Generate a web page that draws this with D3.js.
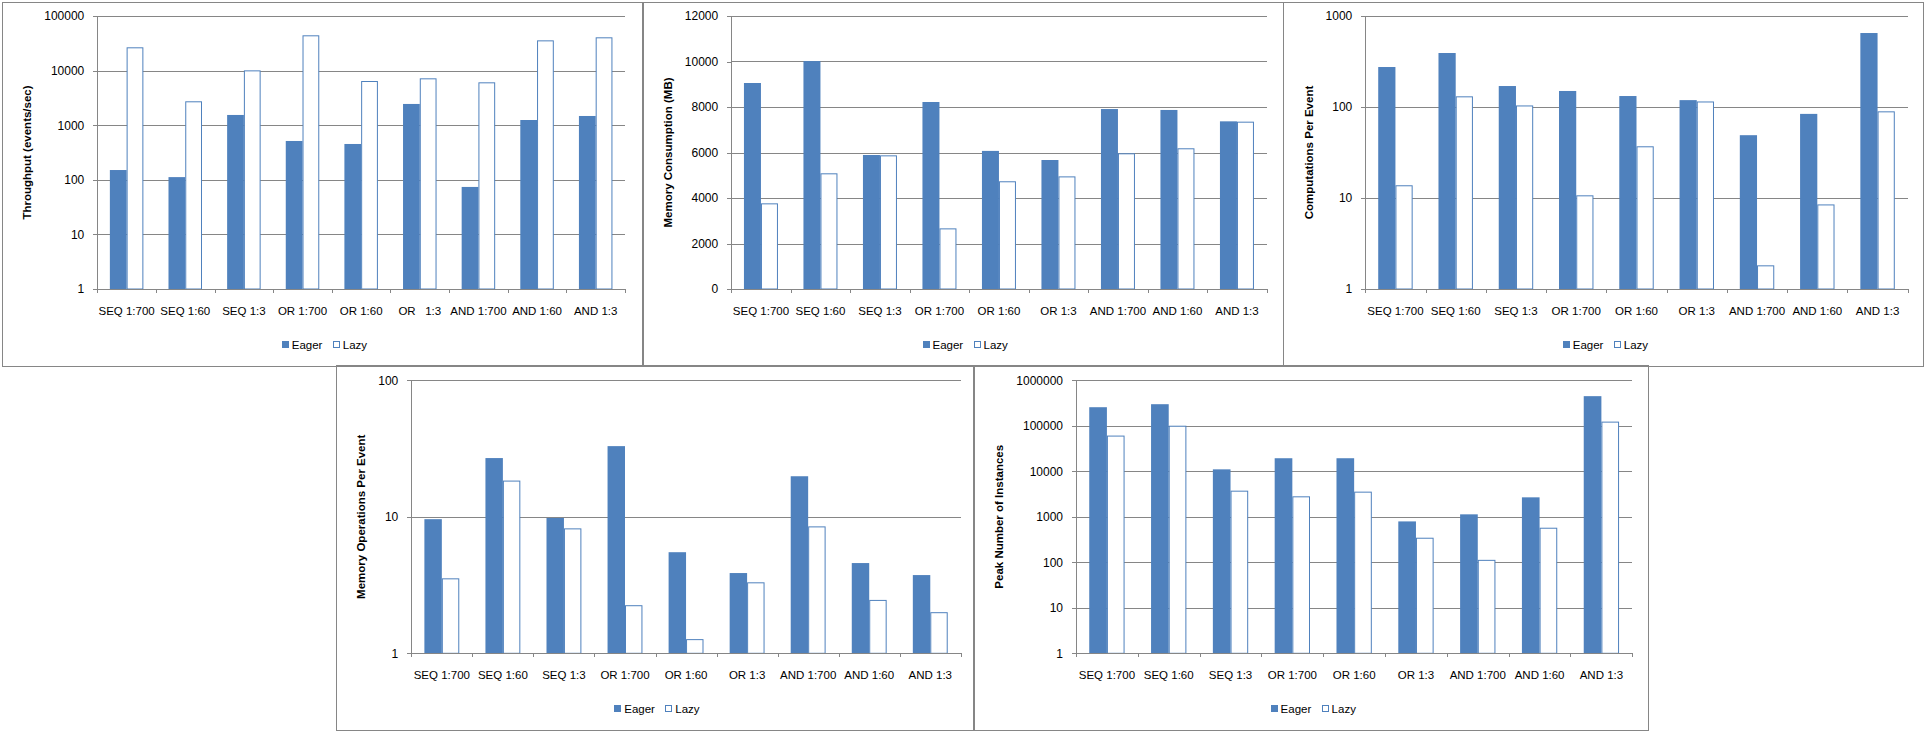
<!DOCTYPE html>
<html>
<head>
<meta charset="utf-8">
<script src="https://d3js.org/d3.v7.min.js"></script>
<title>Eager vs Lazy</title>
<style>
body { margin: 0; background: #fff; }
svg { display: block; }
text { font-family: "Liberation Sans", Arial, sans-serif; fill: #000; }
.tick text { font-size: 12px; }
.cat text { font-size: 11.5px; white-space: pre; }
.ytitle { font-size: 11.5px; font-weight: bold; }
.legend text { font-size: 11.5px; }
</style>
</head>
<body>
<svg width="1926" height="733"></svg>
<script>

// categories and series
let categories = ["SEQ 1:700", "SEQ 1:60", "SEQ 1:3", "OR 1:700", "OR 1:60", "OR 1:3", "AND 1:700", "AND 1:60", "AND 1:3"];
let categoriesThroughput = ["SEQ 1:700", "SEQ 1:60", "SEQ 1:3", "OR 1:700", "OR 1:60", "OR   1:3", "AND 1:700", "AND 1:60", "AND 1:3"];
let seriesNames = ["Eager", "Lazy"];

// values
let throughputEager = [151, 112, 1540, 514, 453, 2450, 74, 1245, 1475];
let throughputLazy = [26700, 2740, 10100, 44300, 6450, 7220, 6100, 35800, 40700];
let memoryEager = [9055, 10020, 5890, 8220, 6070, 5670, 7910, 7870, 7370];
let memoryLazy = [3765, 5085, 5875, 2665, 4735, 4950, 5965, 6185, 7355];
let computationsEager = [275, 392, 170, 150, 132, 119, 49, 84, 650];
let computationsLazy = [13.8, 131, 104, 10.7, 37, 115, 1.82, 8.5, 89.6];
let memOpsEager = [9.6, 26.9, 9.8, 32.9, 5.5, 3.87, 19.8, 4.58, 3.74];
let memOpsLazy = [3.54, 18.4, 8.22, 2.25, 1.27, 3.31, 8.5, 2.46, 2.0];
let instancesEager = [255000, 297000, 11000, 19300, 19300, 790, 1130, 2670, 446000];
let instancesLazy = [60700, 100000, 3740, 2810, 3560, 346, 113, 574, 123000];

// tick labels
let throughputTicks = [1, 10, 100, 1000, 10000, 100000];
let memoryTicks = [0, 2000, 4000, 6000, 8000, 10000, 12000];
let computationsTicks = [1, 10, 100, 1000];
let memOpsTicks = [1, 10, 100];
let instancesTicks = [1, 10, 100, 1000, 10000, 100000, 1000000];

let blue = "#4F81BD";
let grey = "#868686";

let panels = [
  {title: "Throughput (events/sec)", cats: categoriesThroughput, eager: throughputEager, lazy: throughputLazy,
   ticks: throughputTicks, log: true,
   box: [1.5, 1.5, 642, 365], plot: [97.3, 625, 16, 289], titleX: 27},
  {title: "Memory Consumption  (MB)", cats: categories, eager: memoryEager, lazy: memoryLazy,
   ticks: memoryTicks, log: false,
   box: [642, 1.5, 1283, 365], plot: [731.2, 1266.7, 16, 289], titleX: 668},
  {title: "Computations Per Event", cats: categories, eager: computationsEager, lazy: computationsLazy,
   ticks: computationsTicks, log: true,
   box: [1283, 1.5, 1922.5, 365], plot: [1365.3, 1907.7, 16, 289], titleX: 1309},
  {title: "Memory Operations  Per Event", cats: categories, eager: memOpsEager, lazy: memOpsLazy,
   ticks: memOpsTicks, log: true,
   box: [336, 365, 972.5, 729.5], plot: [411.3, 960.8, 380.2, 653.3], titleX: 361},
  {title: "Peak Number of Instances", cats: categories, eager: instancesEager, lazy: instancesLazy,
   ticks: instancesTicks, log: true,
   box: [973.5, 365, 1647.7, 729.5], plot: [1076, 1632.3, 380.2, 653.3], titleX: 999}
];

let svg = d3.select("svg");

function px(v) { return Math.round(v) + 0.5; }

function drawPanel(p) {
  let [bx0, by0, bx1, by1] = p.box;
  let [left, right, top, bottom] = p.plot;
  let w = right - left, h = bottom - top;

  svg.append("rect")
    .attr("x", px(bx0)).attr("y", px(by0))
    .attr("width", Math.round(bx1 - bx0)).attr("height", Math.round(by1 - by0))
    .attr("fill", "none").attr("stroke", grey)
    .attr("shape-rendering", "crispEdges");

  let g = svg.append("g").attr("transform", "translate(" + left + "," + top + ")");

  let y = p.log
    ? d3.scaleLog().domain([p.ticks[0], p.ticks[p.ticks.length - 1]]).range([h, 0])
    : d3.scaleLinear().domain([p.ticks[0], p.ticks[p.ticks.length - 1]]).range([h, 0]);

  // Excel style: gap width 150% of a bar
  let x0 = d3.scaleBand().domain(p.cats).range([0, w]).paddingInner(1.5 / 3.5).paddingOuter(0.75 / 3.5);
  let x1 = d3.scaleBand().domain(seriesNames).range([0, x0.bandwidth()]);

  // gridlines
  g.selectAll("line.grid").data(p.ticks.slice(1)).join("line")
    .attr("class", "grid")
    .attr("x1", 0).attr("x2", w)
    .attr("y1", d => px(y(d)) - top % 1).attr("y2", d => px(y(d)) - top % 1)
    .attr("stroke", grey).attr("shape-rendering", "crispEdges");

  // bars
  let rows = p.cats.map((c, i) => ({cat: c, values: [p.eager[i], p.lazy[i]]}));
  let base = y(p.ticks[0]);
  let grp = g.selectAll("g.cat-bars").data(rows).join("g")
    .attr("class", "cat-bars")
    .attr("transform", d => "translate(" + x0(d.cat) + ",0)");
  grp.selectAll("rect").data(d => d.values.map((v, j) => ({s: seriesNames[j], v: v}))).join("rect")
    .attr("x", d => x1(d.s) + (d.s == "Lazy" ? 0.5 : 0))
    .attr("y", d => y(d.v) + (d.s == "Lazy" ? 0.5 : 0))
    .attr("width", d => x1.bandwidth() - (d.s == "Lazy" ? 1 : 0))
    .attr("height", d => base - y(d.v) - (d.s == "Lazy" ? 0.5 : 0))
    .attr("fill", d => d.s == "Eager" ? blue : "#fff")
    .attr("stroke", d => d.s == "Eager" ? "none" : blue)
    .attr("stroke-width", 1);

  // y axis
  let yAxis = g.append("g")
    .call(d3.axisLeft(y).tickValues(p.ticks).tickSize(4).tickSizeOuter(0).tickPadding(9).tickFormat(d3.format("d")));
  yAxis.selectAll("path, line").attr("stroke", grey).attr("shape-rendering", "crispEdges");
  yAxis.attr("font-family", null).attr("font-size", null);

  // x axis: marks on category boundaries, labels in the middle
  let edges = d3.scaleLinear().domain([0, p.cats.length]).range([0, w]);
  let xMarks = g.append("g").attr("transform", "translate(0," + h + ")")
    .call(d3.axisBottom(edges).tickValues(d3.range(p.cats.length + 1)).tickSize(4).tickSizeOuter(0).tickFormat(""));
  xMarks.selectAll("path, line").attr("stroke", grey).attr("shape-rendering", "crispEdges");

  let xLabels = g.append("g").attr("class", "cat").attr("transform", "translate(0," + h + ")")
    .call(d3.axisBottom(x0).tickSize(0).tickPadding(18));
  xLabels.select(".domain").remove();
  xLabels.attr("font-family", null).attr("font-size", null);

  // y title
  svg.append("text")
    .attr("class", "ytitle")
    .attr("transform", "translate(" + p.titleX + "," + (top + h / 2) + ") rotate(-90)")
    .attr("text-anchor", "middle")
    .attr("dy", "0.35em")
    .text(p.title);

  // legend
  let ly = bottom + 56;
  let lg = svg.append("g").attr("class", "legend")
    .attr("transform", "translate(" + ((bx0 + bx1) / 2 - 40) + "," + ly + ")");
  let item = lg.selectAll("g").data(seriesNames).join("g")
    .attr("transform", (d, i) => "translate(" + (i * 51) + ",0)");
  item.append("rect")
    .attr("x", 0.5).attr("y", -3.5).attr("width", 6).attr("height", 6)
    .attr("fill", d => d == "Eager" ? blue : "#fff")
    .attr("stroke", blue).attr("shape-rendering", "crispEdges");
  item.append("text")
    .attr("x", 10).attr("dy", "0.35em")
    .text(d => d);
}

panels.forEach(drawPanel);

</script>
</body>
</html>
